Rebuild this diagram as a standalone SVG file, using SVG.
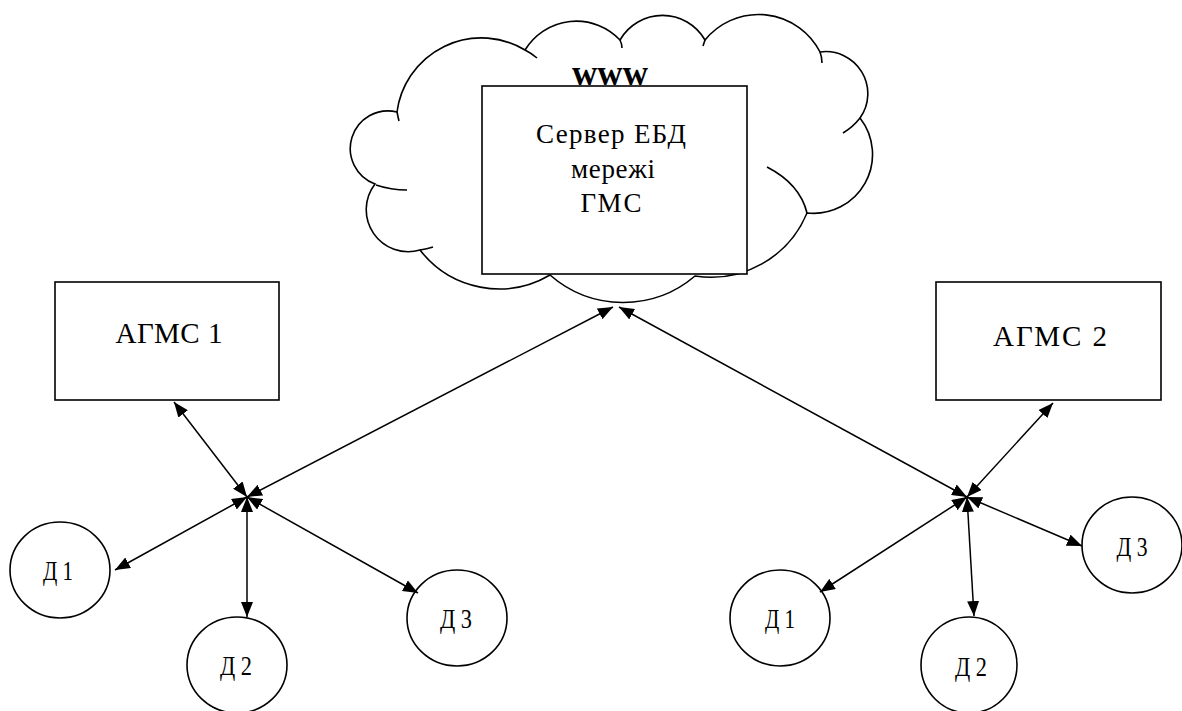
<svg xmlns="http://www.w3.org/2000/svg" width="1182" height="711" viewBox="0 0 1182 711">
<style>
.ln{fill:none;stroke:#000;stroke-width:1.5}
.sh{fill:#fff;stroke:#000;stroke-width:1.6}
.cl{fill:none;stroke:#000;stroke-width:1.6}
.t{font-family:"Liberation Serif","Times New Roman",serif;fill:#000;text-anchor:middle}
</style>
<defs>
<marker id="ah" markerUnits="userSpaceOnUse" markerWidth="15" markerHeight="12" refX="15" refY="6" orient="auto-start-reverse">
<path d="M0,0 L15,6 L0,12 z" fill="#000"/>
</marker>
</defs>
<rect width="1182" height="711" fill="#fff"/>
<g id="cloud">
<path class="sh" d="M397,112 A85,85 0 0 1 525,50 A60,60 0 0 1 620,40 A49,49 0 0 1 705,40 A69,69 0 0 1 820,52 A42,42 0 0 1 860,118 A59,59 0 0 1 807,213 A104,104 0 0 1 695,276 A111,111 0 0 1 550,275 A100,100 0 0 1 420,250 A42,42 0 0 1 375,184 A37.7,37.7 0 0 1 397,112 Z"/>
<path class="cl" d="M397,112 Q398,117 399,121"/>
<path class="cl" d="M525,50 Q531,53 537,58"/>
<path class="cl" d="M620,40 Q622,44 622,48"/>
<path class="cl" d="M705,40 Q704,43 703,46"/>
<path class="cl" d="M820,52 Q822,57 822,63"/>
<path class="cl" d="M860,118 Q853,127 843,133"/>
<path class="cl" d="M767,167 Q800,184 807,213"/>
<path class="cl" d="M420,250 Q427,249 433,247"/>
<path class="cl" d="M376,185 Q391,190 407,190"/>
<text class="t" x="610" y="85" font-size="35" font-weight="bold">www</text>
</g>
<g id="server">
<rect class="sh" x="482" y="86" width="265" height="188"/>
<text class="t" x="611" y="143" font-size="27" textLength="150">Сервер ЕБД</text>
<text class="t" x="613" y="178" font-size="27" textLength="84">мережі</text>
<text class="t" x="611" y="212" font-size="27" textLength="61">ГМС</text>
</g>
<g id="agms1">
<rect class="sh" x="55" y="282" width="224" height="118"/>
<text class="t" x="169" y="343" font-size="29" textLength="107">АГМС 1</text>
</g>
<g id="agms2">
<rect class="sh" x="936" y="282" width="225" height="118"/>
<text class="t" x="1050" y="346" font-size="29" textLength="114">АГМС 2</text>
</g>
<g id="left-d1">
<ellipse class="sh" cx="60" cy="570" rx="50" ry="48"/>
<text class="t" x="58" y="580" font-size="27" textLength="30" lengthAdjust="spacingAndGlyphs">Д 1</text>
</g>
<g id="left-d2">
<ellipse class="sh" cx="237" cy="665" rx="50" ry="48"/>
<text class="t" x="236" y="675" font-size="27" textLength="32" lengthAdjust="spacingAndGlyphs">Д 2</text>
</g>
<g id="left-d3">
<ellipse class="sh" cx="457" cy="618" rx="50" ry="48"/>
<text class="t" x="456" y="628" font-size="27" textLength="32" lengthAdjust="spacingAndGlyphs">Д 3</text>
</g>
<g id="right-d1">
<ellipse class="sh" cx="780" cy="618" rx="50" ry="48"/>
<text class="t" x="780" y="628" font-size="27" textLength="30" lengthAdjust="spacingAndGlyphs">Д 1</text>
</g>
<g id="right-d2">
<ellipse class="sh" cx="969" cy="665" rx="48" ry="48"/>
<text class="t" x="971" y="676" font-size="27" textLength="32" lengthAdjust="spacingAndGlyphs">Д 2</text>
</g>
<g id="right-d3">
<ellipse class="sh" cx="1132" cy="545" rx="50" ry="48"/>
<text class="t" x="1132" y="556" font-size="27" textLength="31" lengthAdjust="spacingAndGlyphs">Д 3</text>
</g>
<g id="connectors">
<line class="ln" x1="174" y1="402" x2="247" y2="497" marker-start="url(#ah)" marker-end="url(#ah)"/>
<line class="ln" x1="613" y1="307" x2="247" y2="497" marker-start="url(#ah)" marker-end="url(#ah)"/>
<line class="ln" x1="115" y1="570" x2="247" y2="497" marker-start="url(#ah)" marker-end="url(#ah)"/>
<line class="ln" x1="247" y1="617" x2="247" y2="497" marker-start="url(#ah)" marker-end="url(#ah)"/>
<line class="ln" x1="418" y1="593" x2="247" y2="497" marker-start="url(#ah)" marker-end="url(#ah)"/>
<line class="ln" x1="1053" y1="403" x2="967" y2="497" marker-start="url(#ah)" marker-end="url(#ah)"/>
<line class="ln" x1="619" y1="307" x2="967" y2="497" marker-start="url(#ah)" marker-end="url(#ah)"/>
<line class="ln" x1="820" y1="592" x2="967" y2="497" marker-start="url(#ah)" marker-end="url(#ah)"/>
<line class="ln" x1="974" y1="616" x2="967" y2="497" marker-start="url(#ah)" marker-end="url(#ah)"/>
<line class="ln" x1="1082" y1="546" x2="967" y2="497" marker-start="url(#ah)" marker-end="url(#ah)"/>
</g>
</svg>
